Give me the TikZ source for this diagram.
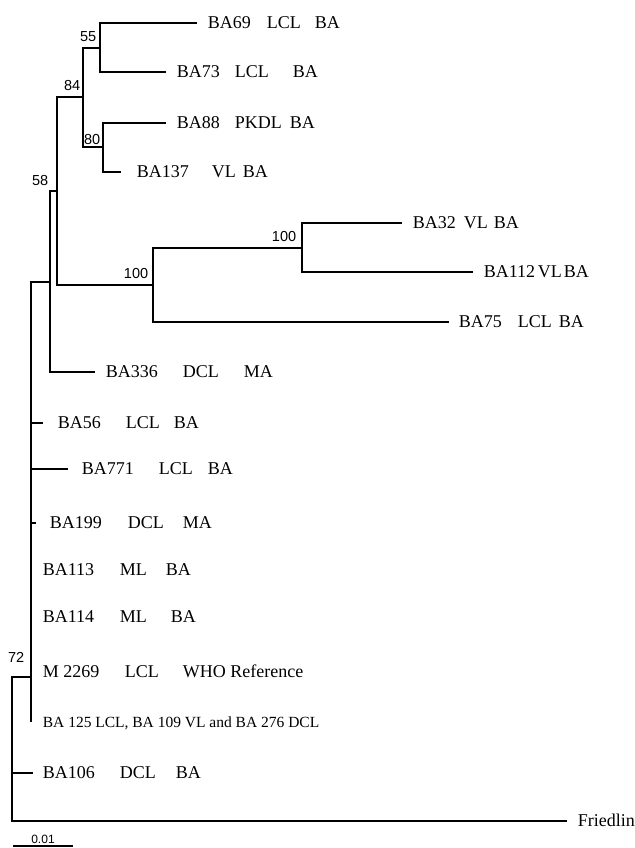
\documentclass[tikz,border=0pt]{standalone}
\usepackage{fontspec}
\setmainfont{Liberation Serif}
\newfontfamily\bootfont{Liberation Sans}
\usepackage{tikz}
\newcommand{\tcol}[2]{\makebox[#1pt][l]{#2}}

\begin{document}
\begin{tikzpicture}[x=1pt, y=-1pt, line width=1.7pt,
  leaf/.style={anchor=west, inner xsep=#1, inner ysep=0pt, text height=11.9pt, text depth=0pt, font=\fontsize{18pt}{20pt}\selectfont},
  leaf/.default=10pt,
  boot/.style={anchor=south east, inner sep=0pt, font=\bootfont\fontsize{14.5pt}{16pt}\selectfont}]
  \useasboundingbox (0,0) rectangle (634,848);
  % internal nodes
  \coordinate (root) at (12,749);
  \coordinate (n72) at (31,677);
  \coordinate (nA) at (50,282);
  \coordinate (n58) at (57,191);
  \coordinate (n84) at (83,97);
  \coordinate (n55) at (100,48);
  \coordinate (n80) at (103,147);
  \coordinate (n100a) at (153,285);
  \coordinate (n100b) at (302,248);
  % leaves
  \node[leaf] (BA69) at (197,23) {\tcol{59}{BA69}\tcol{48}{LCL}BA};
  \node[leaf] (BA73) at (166,72) {\tcol{58}{BA73}\tcol{58}{LCL}BA};
  \node[leaf] (BA88) at (166,123) {\tcol{58}{BA88}\tcol{55}{PKDL}BA};
  \node[leaf=15pt] (BA137) at (121,172) {\tcol{75}{BA137}\tcol{31}{VL}BA};
  \node[leaf] (BA32) at (402,223) {\tcol{51}{BA32}\tcol{30}{VL}BA};
  \node[leaf] (BA112) at (473,272) {\tcol{54}{BA112}\tcol{26}{VL}BA};
  \node[leaf=9pt] (BA75) at (449,322) {\tcol{59}{BA75}\tcol{41}{LCL}BA};
  \node[leaf] (BA336) at (95,372) {\tcol{77}{BA336}\tcol{61}{DCL}MA};
  \node[leaf=14pt] (BA56) at (43,423) {\tcol{68}{BA56}\tcol{48}{LCL}BA};
  \node[leaf=13pt] (BA771) at (68,469) {\tcol{77}{BA771}\tcol{49}{LCL}BA};
  \node[leaf=13pt] (BA199) at (36,523) {\tcol{78}{BA199}\tcol{55}{DCL}MA};
  \node[leaf=11pt] (BA113) at (31,570) {\tcol{77}{BA113}\tcol{46}{ML}BA};
  \node[leaf=11pt] (BA114) at (31,617) {\tcol{77}{BA114}\tcol{51}{ML}BA};
  \node[leaf=11pt] (M2269) at (31,672) {\tcol{82}{M 2269}\tcol{58}{LCL}WHO Reference};
  \node[leaf=11pt, text height=10.3pt, font=\fontsize{15.5pt}{17pt}\selectfont] (BA125) at (31,722) {BA 125 LCL, BA 109 VL and BA 276 DCL};
  \node[leaf=9pt] (BA106) at (33,773) {\tcol{77}{BA106}\tcol{56}{DCL}BA};
  \node[leaf] (Fr) at (567,821) {Friedlin};
  % branches
  \draw (n55) |- (BA69) (n55) |- (BA73);
  \draw (n80) |- (BA88) (n80) |- (BA137);
  \draw (n84) |- (n55) (n84) |- (n80);
  \draw (n100b) |- (BA32) (n100b) |- (BA112);
  \draw (n100a) |- (n100b) (n100a) |- (BA75);
  \draw (n58) |- (n84) (n58) |- (n100a);
  \draw (nA) |- (n58) (nA) |- (BA336);
  \foreach \t in {nA,BA56,BA771,BA199,BA113,BA114,M2269,BA125}
    \draw (n72) |- (\t);
  \draw (root) |- (n72) (root) |- (BA106) (root) |- (Fr);
  % bootstrap values
  \node[boot] (b55) at (97,42) {55};
  \node[boot] (b84) at (81,91) {84};
  \node[boot] (b80) at (101,145) {80};
  \node[boot] (b58) at (49,186) {58};
  \node[boot] (b100a) at (149,279) {100};
  \node[boot] (b100b) at (297,242) {100};
  \node[boot] (b72) at (25,663) {72};
  % scale bar
  \coordinate (s0) at (13,846);
  \coordinate (s1) at (73,846);
  \draw (s0) -- (s1) node[midway, above=2pt, inner sep=0pt, font=\bootfont\fontsize{12pt}{13pt}\selectfont] (scale) {0.01};
\end{tikzpicture}
\end{document}
